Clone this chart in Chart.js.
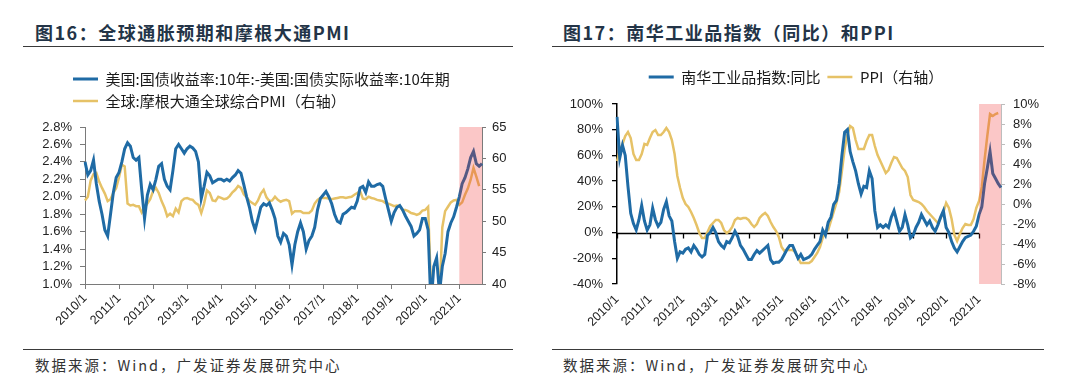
<!DOCTYPE html>
<html lang="zh">
<head>
<meta charset="UTF-8" />
<script src="https://cdn.jsdelivr.net/npm/chart.js"></script>
<style>
  body {
    margin: 0;
    width: 1080px;
    height: 387px;
    position: relative;
    overflow: hidden;
    background: #fff;
    font-family: "Noto Sans CJK SC", sans-serif;
  }
  .title {
    position: absolute;
    top: 19px;
    font-size: 18px;
    font-weight: bold;
    color: #233447;
    letter-spacing: 1.5px;
    line-height: 26px;
    white-space: nowrap;
  }
  .rule { position: absolute; height: 1px; background: #3a3a3a; }
  .source {
    position: absolute;
    top: 355px;
    font-size: 14.5px;
    color: #333;
    letter-spacing: 2px;
    line-height: 20px;
    white-space: nowrap;
  }
  canvas { position: absolute; top: 50px; }
</style>
</head>
<body>
<div class="title" style="left:35px">图16：全球通胀预期和摩根大通PMI</div>
<div class="rule" style="left:23px; width:490px; top:46px"></div>
<div class="title" style="left:563px">图17：南华工业品指数（同比）和PPI</div>
<div class="rule" style="left:552px; width:492px; top:46px"></div>

<canvas id="left" width="540" height="298" style="left:0"></canvas>
<canvas id="right" width="540" height="298" style="left:540px"></canvas>

<div class="rule" style="left:23px; width:490px; top:349px"></div>
<div class="rule" style="left:552px; width:492px; top:349px"></div>
<div class="source" style="left:35px">数据来源：Wind，广发证券发展研究中心</div>
<div class="source" style="left:563px">数据来源：Wind，广发证券发展研究中心</div>

<script>
// monthly categories, 2010/1 .. 2021/9
const years = [2010, 2011, 2012, 2013, 2014, 2015, 2016, 2017, 2018, 2019, 2020, 2021];
const months = [];
years.forEach(y => {
  for (let m = 1; m <= 12; m++) {
    if (y < 2021 || m <= 9) months.push(y + "/" + m);
  }
});

// chart 16: US 10y breakeven (%) and JPM global composite PMI
const breakeven = [
  2.40, 2.25, 2.30, 2.42, 2.15, 1.95, 1.80, 1.62, 1.55, 1.80, 2.05, 2.22,
  2.28, 2.40, 2.55, 2.62, 2.58, 2.45, 2.42, 2.45, 2.08, 1.75, 2.02, 2.14,
  2.08, 2.20, 2.35, 2.38, 2.20, 2.12, 2.08, 2.30, 2.55, 2.60, 2.55, 2.50,
  2.55, 2.58, 2.56, 2.52, 2.40, 1.98, 2.12, 2.28, 2.24, 2.16, 2.18, 2.20,
  2.20, 2.18, 2.20, 2.18, 2.22, 2.25, 2.30, 2.27, 2.14, 2.00, 1.88, 1.72,
  1.62, 1.75, 1.88, 1.92, 1.90, 1.93, 1.85, 1.75, 1.55, 1.48, 1.58, 1.55,
  1.45, 1.22, 1.45, 1.60, 1.70, 1.60, 1.40, 1.50, 1.55, 1.65, 1.85, 1.98,
  2.02, 2.06, 2.00, 1.92, 1.80, 1.72, 1.70, 1.80, 1.82, 1.85, 1.88, 1.87,
  1.95, 2.10, 2.12, 2.05, 2.17, 2.12, 2.12, 2.14, 2.15, 2.12, 1.98, 1.85,
  1.72, 1.82, 1.88, 1.90, 1.85, 1.78, 1.72, 1.66, 1.55, 1.58, 1.62, 1.75,
  1.75, 1.62, 0.75, 1.20, 1.30, 0.90, 1.20, 1.35, 1.60, 1.70, 1.77, 1.88,
  2.00, 2.15, 2.22, 2.32, 2.45, 2.52, 2.38, 2.35, 2.38
];
const globalPmi = [
  53.3, 53.9, 56.5, 57.5, 57.7, 56.3, 55.3, 54.4, 53.2, 53.5, 54.5, 55.3,
  57.0, 59.0, 58.7, 52.8, 52.5, 52.6, 52.4, 52.4, 51.4, 52.2, 52.8, 53.5,
  54.8, 55.3, 54.5, 53.2, 52.2, 50.8, 51.2, 50.8, 52.0, 51.4, 53.2, 53.6,
  53.7, 53.5, 53.4, 52.9, 52.6, 51.3, 52.8, 54.9, 54.5, 53.3, 53.2, 53.9,
  53.7, 53.5, 53.6, 54.0, 54.6, 55.0, 55.6, 55.3, 54.3, 53.8, 53.2, 52.9,
  52.6, 53.3, 54.4, 55.0, 53.8, 53.2, 53.3, 53.9, 53.4, 53.1, 53.3, 53.4,
  53.2, 51.2, 51.6, 51.6, 51.6, 51.3, 51.3, 51.3, 51.7, 52.8, 53.4, 53.7,
  53.7, 53.7, 53.6, 53.5, 53.6, 53.7, 53.8, 53.8, 53.7, 53.8, 53.9, 54.2,
  54.5, 54.8, 53.6, 53.5, 53.9, 53.7, 53.6, 53.4, 53.3, 53.2, 52.9, 52.8,
  52.6, 52.4, 52.5, 52.4, 51.8, 51.8, 51.6, 51.3, 51.2, 51.0, 51.2, 51.7,
  51.8, 52.3, 39.5, 26.2, 33.0, 38.0, 49.0, 51.6, 52.3, 53.0, 53.3, 53.4,
  52.6, 53.0, 54.2, 55.2, 56.6, 58.5, 57.1, 55.6
];
const breakevenTicks = [1.0, 1.2, 1.4, 1.6, 1.8, 2.0, 2.2, 2.4, 2.6, 2.8];
const pmiTicks = [40, 45, 50, 55, 60, 65];

// chart 17: Nanhua industrial index yoy (%) and PPI yoy (%)
const nanhuaYoy = [
  90, 58, 68, 60, 36, 15, 7, 2, 10, 21, 9, 2,
  6, 19, 10, 5, 8, 18, 24, 13, 9, -7, -20, -15,
  -16, -13, -12, -15, -10, -13, -17, -19, -17, -2, 0, 4,
  0, -7, -10, -12, -7, -8, -4, 1, -3, -10, -13, -17,
  -21, -21, -17, -14, -16, -14, -12, -10, -21, -24, -23, -23,
  -21, -17, -13, -10, -10, -15, -20, -17, -21, -20, -19, -17,
  -13, -10, -7, 2, -2, 8, 12, 22, 25, 38, 60, 78,
  80, 63, 55, 48, 38, 30, 36, 35, 48, 42, 17, 4,
  6, 4, 6, 4, 12, 17, 9, 1, 4, 14, 6, -4,
  -2, 4, 8, 14, 10, 6, 9, 4, 1, 6, 12, 17,
  4, 0, -7, -12, -15, -11, -7, -4, -3, -2, 1, 5,
  14, 20, 38, 50, 63, 46, 42, 38, 35
];
const ppiYoy = [
  4.3, 5.3, 6.0, 6.8, 7.2, 6.6, 5.0, 4.4, 4.4, 5.0, 6.0, 5.9,
  6.6, 7.2, 7.4, 6.9, 6.9, 7.2, 7.6, 7.2, 6.4, 5.0, 2.8, 1.6,
  0.6, 0.0, -0.3, -0.8, -1.4, -2.1, -2.9, -3.4, -3.4, -2.8, -2.2, -1.9,
  -1.6, -1.6, -1.9, -2.6, -2.9, -2.7, -2.3, -1.6, -1.4, -1.5, -1.4, -1.4,
  -1.6, -2.0, -2.3, -2.0, -1.4, -1.1, -0.9, -1.2, -1.8, -2.3, -2.7, -3.3,
  -4.3, -4.7, -4.6, -4.6, -4.6, -4.8, -5.4, -5.9, -5.9, -5.9, -5.9, -5.7,
  -5.3, -4.9, -4.3, -3.4, -2.8, -2.6, -1.7, -0.8, 0.1, 1.2, 3.3, 5.5,
  6.9, 7.8, 7.6, 6.4, 5.5, 5.5, 5.5, 6.3, 6.9, 6.9, 5.8, 4.9,
  4.3, 3.7, 3.1, 3.4, 4.1, 4.7, 4.6, 4.1, 3.6, 3.3, 2.7, 0.9,
  0.4, 0.3, 0.2, 0.0, -0.3, -0.7, -1.0, -1.3, -1.6, -1.9, -1.4, -0.8,
  0.1, -0.4, -1.5, -3.1, -3.7, -3.0, -2.4, -2.0, -2.1, -2.1, -1.5, -0.4,
  0.3, 1.7, 4.4, 6.8, 9.0, 8.8, 9.0, 9.1
];
const nanhuaTicks = [-40, -20, 0, 20, 40, 60, 80, 100];
const ppiTicks = [-8, -6, -4, -2, 0, 2, 4, 6, 8, 10];

const shadeFrom = months.indexOf("2021/1");
const BLUE = "#1f6ba5";
const GOLD = "#e6c267";
const tickFont = { family: "'Liberation Sans', Arial, sans-serif", size: 13 };
const legendFont = { family: "'Noto Sans CJK SC', sans-serif", size: 15 };

// legend: extra room underneath, and its own left/right edges
const legendTweak = {
  id: "legendTweak",
  beforeLayout(chart, args, opts) {
    const lg = chart.legend;
    if (!lg || lg._gapDone) return;
    const fit = lg.fit;
    lg.fit = function () { fit.call(this); this.height += opts.gap || 0; };
    lg._gapDone = true;
  },
  afterLayout(chart, args, opts) {
    const lg = chart.legend;
    if (opts.left != null) lg.left = opts.left;
    if (opts.right != null) lg.right = opts.right;
  }
};

// translucent red band over 2021
const shade = {
  id: "shade",
  afterDatasetsDraw(chart) {
    const { ctx, chartArea: a, scales: { x } } = chart;
    const left = x.getPixelForValue(shadeFrom);
    ctx.save();
    ctx.fillStyle = "rgba(240, 40, 40, 0.26)";
    ctx.fillRect(left, a.top, a.right - left, a.bottom - a.top);
    ctx.restore();
  }
};

// black zero line with year ticks (chart 17)
const zeroAxis = {
  id: "zeroAxis",
  beforeDatasetsDraw(chart) {
    const { ctx, chartArea: a, scales: { x, y } } = chart;
    const y0 = Math.round(y.getPixelForValue(0)) + 0.5;
    ctx.save();
    ctx.strokeStyle = "#000";
    ctx.lineWidth = 1.3;
    ctx.beginPath();
    ctx.moveTo(a.left, y0);
    ctx.lineTo(x.getPixelForValue(shadeFrom), y0);
    x.ticks.forEach(t => {
      const px = Math.round(x.getPixelForValue(t.value)) + 0.5;
      ctx.moveTo(px, y0);
      ctx.lineTo(px, y0 + 5);
    });
    ctx.stroke();
    ctx.restore();
  }
};

const yearTicks = s => { s.ticks = s.ticks.filter(t => t.value % 12 === 0); };
const fixedTicks = list => s => { s.ticks = list.map(v => ({ value: v })); };

function line(label, data, color, width, axis) {
  return {
    label, data, yAxisID: axis,
    borderColor: color, backgroundColor: color,
    borderWidth: width, pointRadius: 0, tension: 0
  };
}

function legendOpts(align, padding) {
  return {
    position: "top",
    align,
    labels: {
      usePointStyle: true, pointStyle: "line", pointStyleWidth: 25,
      padding, font: legendFont, color: "#1a1a1a"
    }
  };
}

// ---- chart 16 ----
const grey = "#7a7a7a";
new Chart(document.getElementById("left"), {
  type: "line",
  data: {
    labels: months,
    datasets: [
      line("美国:国债收益率:10年:-美国:国债实际收益率:10年期", breakeven, BLUE, 3, "y"),
      line("全球:摩根大通全球综合PMI（右轴）", globalPmi, GOLD, 2.5, "y1")
    ]
  },
  options: {
    responsive: false,
    animation: false,
    layout: { padding: { left: 25, right: 4, top: 14.5, bottom: 0 } },
    plugins: {
      legend: legendOpts("start", 7),
      legendTweak: { gap: 8.5, left: 66, right: 530 },
      tooltip: { enabled: false }
    },
    scales: {
      x: {
        afterBuildTicks: yearTicks,
        afterFit: s => { s.height = 64; s.paddingLeft = 0; s.paddingRight = 0; },
        ticks: { autoSkip: false, minRotation: 45, maxRotation: 45, padding: 2, font: { ...tickFont, size: 12.5 }, color: "#222" },
        grid: { drawOnChartArea: false, tickLength: 5, color: grey },
        border: { color: grey }
      },
      y: {
        position: "left", min: 1.0, max: 2.8,
        afterBuildTicks: fixedTicks(breakevenTicks),
        afterFit: s => { s.width = 60; s.paddingTop = 0; s.paddingBottom = 0; },
        ticks: { autoSkip: false, callback: v => v.toFixed(1) + "%", padding: 8, font: tickFont, color: "#222" },
        grid: { drawOnChartArea: false, tickLength: 5, color: grey },
        border: { color: grey }
      },
      y1: {
        position: "right", min: 40, max: 65,
        afterBuildTicks: fixedTicks(pmiTicks),
        afterFit: s => { s.width = 54; s.paddingTop = 0; s.paddingBottom = 0; },
        ticks: { autoSkip: false, padding: 6, font: tickFont, color: "#222" },
        grid: { drawOnChartArea: false, tickLength: 4, color: grey },
        border: { color: grey }
      }
    }
  },
  plugins: [legendTweak, shade]
});

// ---- chart 17 ----
new Chart(document.getElementById("right"), {
  type: "line",
  data: {
    labels: months,
    datasets: [
      line("南华工业品指数:同比", nanhuaYoy, BLUE, 3, "y"),
      line("PPI（右轴）", ppiYoy, GOLD, 2.5, "y1")
    ]
  },
  options: {
    responsive: false,
    animation: false,
    layout: { padding: { left: 20, right: 15, top: 12.5, bottom: 0 } },
    plugins: {
      legend: legendOpts("center", 7),
      legendTweak: { gap: 9.5, left: 20, right: 492 },
      tooltip: { enabled: false }
    },
    scales: {
      x: {
        afterBuildTicks: yearTicks,
        afterFit: s => { s.height = 64; s.paddingLeft = 0; s.paddingRight = 0; },
        ticks: { autoSkip: false, minRotation: 45, maxRotation: 45, padding: 8, font: { ...tickFont, size: 12.5 }, color: "#222" },
        grid: { display: false, drawTicks: false },
        border: { display: false }
      },
      y: {
        position: "left", min: -40, max: 100,
        afterBuildTicks: fixedTicks(nanhuaTicks),
        afterFit: s => { s.width = 57; s.paddingTop = 0; s.paddingBottom = 0; },
        ticks: { autoSkip: false, callback: v => v + "%", padding: 9, font: tickFont, color: "#222" },
        grid: { drawOnChartArea: false, tickLength: 5, color: "#000", lineWidth: 1.3 },
        border: { color: "#000", width: 1.5 }
      },
      y1: {
        position: "right", min: -8, max: 10,
        afterBuildTicks: fixedTicks(ppiTicks),
        afterFit: s => { s.width = 64; s.paddingTop = 0; s.paddingBottom = 0; },
        ticks: { autoSkip: false, callback: v => v + "%", padding: 8, font: tickFont, color: "#222" },
        grid: { drawOnChartArea: false, tickLength: 4, color: "#bdbdbd" },
        border: { color: "#bdbdbd" }
      }
    }
  },
  plugins: [legendTweak, zeroAxis, shade]
});
</script>
</body>
</html>
